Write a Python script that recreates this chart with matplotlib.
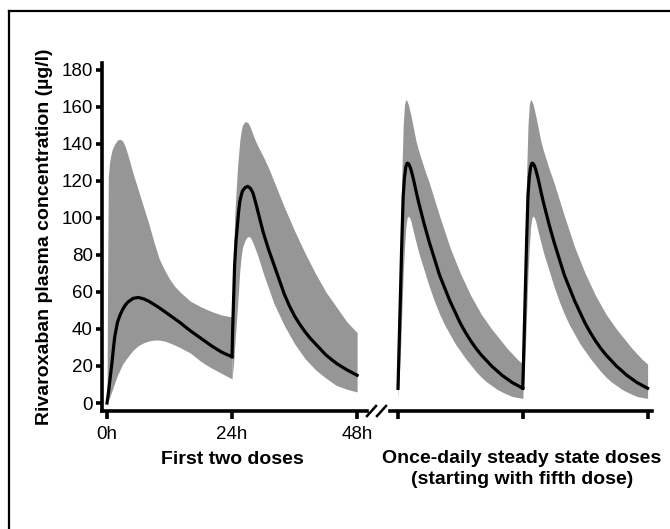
import matplotlib
matplotlib.use('Agg')
import matplotlib.pyplot as plt
from matplotlib.lines import Line2D


# Data

# First dose, hours after dose
t_dose1 = [0, 0.1, 0.25, 0.5, 0.75, 1, 1.25, 1.5, 2, 2.5, 3, 3.5, 4,
           5, 6, 7, 8, 9, 10, 11, 12, 13, 14, 15, 16, 17, 18, 19, 20, 21, 22, 23, 24]
mean_dose1 = [0, 2, 5, 11, 17, 23, 30, 36, 43.5, 47.5, 50.5, 52.8, 54.5,
              56.5, 57, 56.3, 55, 53.3, 51.5, 49.5, 47.5, 45.5, 43.5, 41.2, 39, 37, 35,
              33, 31, 29.2, 27.5, 26.2, 25]
hi_dose1 = [0, 60, 122, 130, 134, 137, 138.5, 140, 142, 142.5, 141.5, 138.5, 134,
            124, 115, 106, 97, 87, 78, 72, 67, 63, 60, 57.5, 55, 53.5, 52,
            50.7, 49.5, 48.5, 47.5, 47, 46.5]
lo_dose1 = [0, 0.5, 1.5, 3, 5, 7, 9, 11, 15, 18, 21, 23, 25,
            28.5, 31, 32.5, 33.5, 34, 34, 33.5, 32.5, 31.3, 30, 28.5, 27, 24.8, 22.5,
            20.7, 19, 17.5, 16, 14.5, 13]

# Second dose
t_dose2 = [24, 24.1, 24.25, 24.5, 24.75, 25, 25.25, 25.5, 25.75, 26, 26.5, 27, 27.5, 28, 28.5, 29,
           30, 31, 32, 33, 34, 35, 36, 37, 38, 39, 40, 41, 42, 43, 44, 45, 46, 47, 48]
mean_dose2 = [25, 38, 52, 75, 87, 95, 103, 109, 112, 114.5, 116.3, 117, 116, 113.5, 108.5, 103,
              92, 83, 75, 67, 59, 52.5, 47, 42.5, 38.5, 35, 32, 29, 26, 23.7, 21.5, 19.7,
              18, 16.5, 15]
hi_dose2 = [46.5, 60, 75, 100, 113, 125, 134, 142, 147, 150, 152, 151.5, 149, 145, 141.5, 138.5,
            133, 127, 120, 113, 106, 99.5, 93, 87, 81, 75.5, 70, 65, 60, 56, 52, 48, 44, 41, 38]
lo_dose2 = [13, 16, 20, 30, 40, 50, 61, 72, 79, 84, 88, 90, 89.5, 86.5, 83, 79,
            70, 62, 54, 48, 42, 37, 32, 28, 24, 21, 18, 15.7, 13.5, 11.5, 9.5, 8.5, 7.5, 6.7, 6]

# Steady state, one dosing interval (repeated for two once-daily doses)
t_ss = [0, 0.25, 0.5, 0.75, 1, 1.25, 1.5, 1.75, 2, 2.25, 2.5, 3, 3.5, 4,
        5, 6, 7, 8, 9, 10, 11, 12, 13, 14, 15, 16, 17, 18, 19, 20, 21, 22, 23, 24]
mean_ss = [7.9, 35, 62, 89, 112, 122, 127.5, 129.5, 129.3, 128, 126, 120.5, 114, 108,
           97, 87, 78, 69, 62, 55, 49, 43, 38, 33.5, 29.5, 26, 23, 20, 17.5, 15, 13, 11, 9.5, 8]
hi_ss = [21, 55, 90, 125, 150, 161, 164, 163, 161, 158, 155, 148, 141, 136,
         127, 119, 110, 101, 92.5, 84, 77, 70, 64, 58, 53, 48, 44, 40, 36.5, 33, 29.5, 26.5, 23.5, 21]
lo_ss = [2.7, 15, 30, 50, 70, 84, 95, 100, 101, 100, 98, 92, 86.5, 81,
         72, 63, 55, 48, 42, 37, 32, 28, 24, 20.5, 17, 14, 11.5, 9.5, 7.5, 6, 4.7, 3.5, 3, 2.5]
ss_offsets = [0, 24]

first_ticks = [0, 24, 48]
first_ticklabels = ['0h', '24h', '48h']
ss_ticks = [0, 24, 48]
y_ticks = list(range(0, 181, 20))

BAND = '#969696'


def style_axis(ax, show_left):
    """
    Thick black spines and outward ticks like the original figure.
    """
    for side in ['top', 'right']:
        ax.spines[side].set_visible(False)
    ax.spines['left'].set_visible(show_left)
    for side in ['left', 'bottom']:
        ax.spines[side].set_linewidth(2.6)
    ax.tick_params(axis='both', direction='out', width=2.6, labelsize=13.5)
    ax.tick_params(axis='x', length=6, pad=5)
    ax.tick_params(axis='y', length=4.5, pad=2)
    ax.set_ylim(-4.3, 183.6)
    ax.set_yticks(y_ticks)
    if not show_left:
        ax.tick_params(axis='y', left=False, labelleft=False)


def plot_segment(ax, t, mean, lo, hi, shift=0):
    """
    Grey range band with the black mean curve on top.
    """
    tt = [v + shift for v in t]
    ax.fill_between(tt, lo, hi, color=BAND, linewidth=0)
    ax.plot(tt, mean, color='black', linewidth=2.3, solid_joinstyle='round')


if __name__ == "__main__":
    plt.rcParams['font.family'] = ['Liberation Sans', 'DejaVu Sans']

    fig = plt.figure(figsize=(6.7, 5.29), dpi=100)

    # left panel: first two doses
    ax1 = fig.add_axes([102 / 670, 1 - 411 / 529, 265 / 670, 348 / 529])
    plot_segment(ax1, t_dose1, mean_dose1, lo_dose1, hi_dose1)
    plot_segment(ax1, t_dose2, mean_dose2, lo_dose2, hi_dose2)
    style_axis(ax1, True)
    ax1.set_xlim(-0.96, 49.9)
    ax1.set_xticks(first_ticks)
    ax1.set_xticklabels(first_ticklabels)
    ax1.set_ylabel('Rivaroxaban plasma concentration (µg/l)', fontsize=14,
                   fontweight='bold', labelpad=6)

    # right panel: steady state
    ax2 = fig.add_axes([390 / 670, 1 - 411 / 529, 262 / 670, 348 / 529])
    for off in ss_offsets:
        plot_segment(ax2, t_ss, mean_ss, lo_ss, hi_ss, shift=off)
    style_axis(ax2, False)
    ax2.set_xlim(-1.54, 48.85)
    ax2.set_xticks(ss_ticks)
    ax2.set_xticklabels([])

    # axis break marks
    for x0 in [367, 377]:
        fig.add_artist(Line2D([x0 / 670, (x0 + 9) / 670],
                              [1 - 416 / 529, 1 - 406 / 529],
                              color='black', linewidth=1.8))

    fig.text(232 / 670, 1 - 460 / 529, 'First two doses', ha='center',
             va='center', fontsize=14, fontweight='bold')
    fig.text(522 / 670, 1 - 469 / 529,
             'Once-daily steady state doses\n(starting with fifth dose)',
             ha='center', va='center', fontsize=14, fontweight='bold',
             linespacing=1.25)

    # frame on top and left edge
    fig.add_artist(Line2D([9 / 670, 1], [1 - 11 / 529, 1 - 11 / 529],
                          color='black', linewidth=1.6))
    fig.add_artist(Line2D([9 / 670, 9 / 670], [0, 1 - 11 / 529],
                          color='black', linewidth=1.6))

    fig.savefig('out.png', dpi=100)
